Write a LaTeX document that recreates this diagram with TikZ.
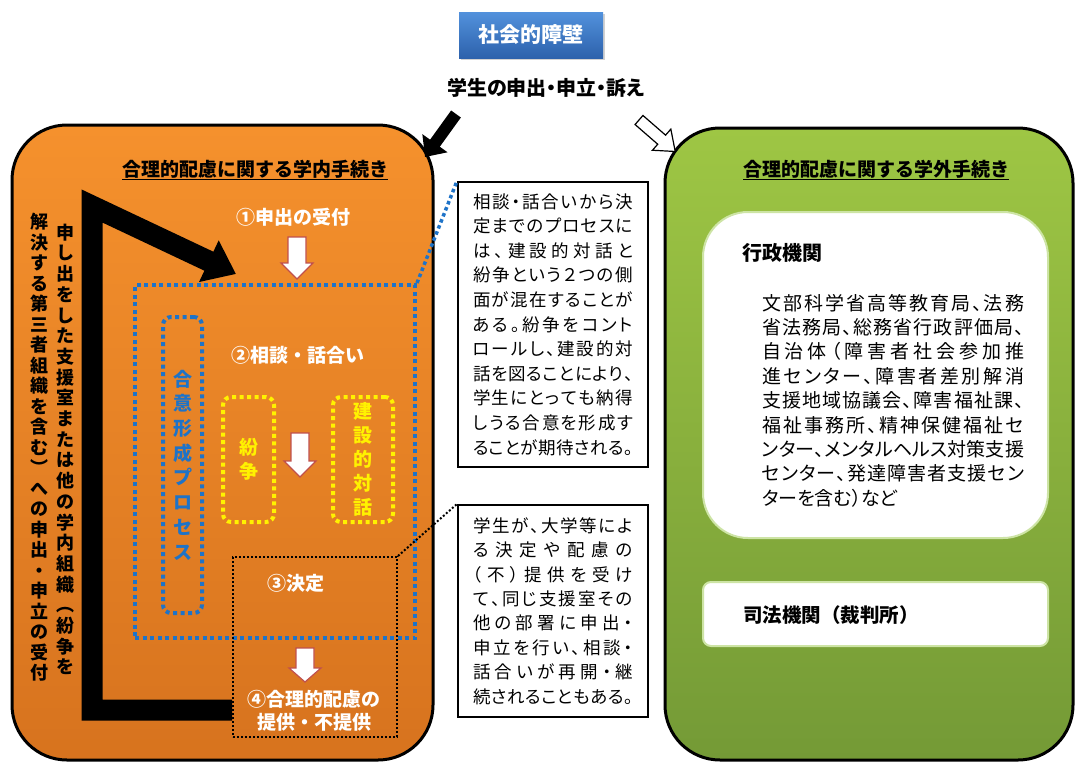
\documentclass[tikz,border=0pt]{standalone}
\usepackage{fontspec}
\setmainfont{Noto Sans CJK JP}
\newfontfamily\jp{Noto Sans CJK JP}
\newfontfamily\jpp{Noto Sans CJK JP}[RawFeature=+palt]
\usetikzlibrary{arrows.meta,shadows}
\definecolor{orTop}{RGB}{245,145,45}
\definecolor{orBot}{RGB}{215,115,30}
\definecolor{grTop}{RGB}{158,198,68}
\definecolor{grBot}{RGB}{116,154,54}
\definecolor{dblue}{RGB}{30,115,200}
\definecolor{arrRed}{RGB}{192,80,77}
\definecolor{bxTop}{RGB}{82,145,220}
\definecolor{bxBot}{RGB}{45,98,172}
\definecolor{glow}{RGB}{205,228,165}
\newcommand\fsz[1]{\fontsize{#1}{#1}\selectfont}
\def\jsp#1#2{#1\ifx#2\relax\else\hfill\expandafter\jsp\expandafter#2\fi}
\newcommand\jline[2]{\hbox to #1{\jsp#2\relax}}
\def\vsp#1{\ifx#1\relax\else\hbox to 1.05em{\hss#1\hss}\expandafter\vsp\fi}
\newcommand\vtxt[2]{\vbox{\baselineskip=#1\lineskiplimit=-100pt\lineskip=0pt\vsp#2\relax}}
\newcommand\barrow[8]{\draw[#8, shift={(#1,#2)}, rotate=#3] (0,-#5) -- (#4-#7,-#5) -- (#4-#7,-#6) -- (#4,0) -- (#4-#7,#6) -- (#4-#7,#5) -- (0,#5) -- cycle;}
\begin{document}
\begin{tikzpicture}[x=1pt,y=-1pt,
  bigbox/.style={draw=black, line width=3pt, rounded corners=55pt, inner sep=0pt},
  bluedot/.style={draw=dblue, line width=4pt, dash pattern=on 4pt off 3.5pt, inner sep=0pt},
  yeldot/.style={draw=yellow, line width=4pt, dash pattern=on 4pt off 3.5pt, rounded corners=8pt, inner sep=0pt},
  blkdot/.style={draw=black, line width=2pt, dash pattern=on 2pt off 2pt},
  wlabel/.style={text=white, font=\jp\bfseries\fsz{19}},
  txtbox/.style={draw=black, line width=2pt, fill=white, inner sep=0pt},
  warrow/.style={draw=arrRed, fill=white, line width=1.2pt}]
\useasboundingbox (0,0) rectangle (1076,763);
\fill[white] (0,0) rectangle (1076,763);

% top
\node[top color=bxTop, bottom color=bxBot, minimum width=144pt, minimum height=46pt,
  drop shadow={shadow xshift=2pt, shadow yshift=-2pt, opacity=0.35},
  text=white, font=\jp\bfseries\fsz{21}] (barrier) at (531,35) {社会的障壁};
\node[font=\jpp\bfseries\fsz{20}] (claim) at (546,88) {学生の申出・申立・訴え};

% big boxes
\node[bigbox, top color=orTop, bottom color=orBot, minimum width=421pt, minimum height=635pt] (inner) at (222.5,442.5) {};
\node[bigbox, top color=grTop, bottom color=grBot, minimum width=408pt, minimum height=632pt] (outer) at (869,444) {};

% arrows from top
\coordinate (a1s) at (456,114);
\coordinate (a1e) at (425,157);
\draw[line width=12pt, -{Triangle[length=17pt,width=30pt]}] (a1s) -- (a1e);
\barrow{639}{120}{-41}{48}{6}{14}{18}{draw=black, fill=white, line width=1.2pt}

% inner procedure
\node[font=\jp\bfseries\fsz{19}] (ttl1) at (255,170) {\underline{合理的配慮に関する学内手続き}};

\node[bluedot, minimum width=280pt, minimum height=353pt] (cons) at (275,461.5) {};
\node[blkdot, minimum width=164pt, minimum height=180pt, inner sep=0pt] (dec) at (315,647) {};

\coordinate (Lc1) at (92,710);
\coordinate (Lc2) at (92,206);
\coordinate (Ltip) at (236,274);
\draw[line width=21pt, line join=miter, -{Triangle[length=30pt,width=44pt]}] (dec.west |- Lc1) -- (Lc1) -- (Lc2) -- (Ltip);

\node[font=\jp\bfseries\fsz{18}, inner sep=0pt] (col1) at (65,449.5) {\vtxt{20.7pt}{申し出をした支援室または他の学内組織︵紛争を}};
\node[font=\jp\bfseries\fsz{18}, inner sep=0pt] (col2) at (39,447.5) {\vtxt{20.5pt}{解決する第三者組織を含む︶への申出・申立の受付}};

\node[wlabel] (s1) at (293,217) {①申出の受付};
\barrow{297}{237}{-90}{42}{9}{16}{16}{warrow}
\node[wlabel] (s2) at (298,355) {②相談・話合い};

\node[bluedot, rounded corners=8pt, minimum width=39pt, minimum height=296pt, text=dblue, font=\jp\bfseries\fsz{19}] (goi) at (182.5,465) {\vtxt{24.7pt}{合意形成プロセス}};
\node[yeldot, minimum width=51pt, minimum height=125pt, text=yellow, font=\jp\bfseries\fsz{19}] (funso) at (248.5,459.5) {\vtxt{23.5pt}{紛争}};
\node[yeldot, minimum width=60pt, minimum height=125pt, text=yellow, font=\jp\bfseries\fsz{19}] (kensetsu) at (363,459.5) {\vtxt{24pt}{建設的対話}};
\barrow{300}{433}{-90}{44}{9}{16}{16}{warrow}

\node[wlabel] (s3) at (296,583) {③決定};
\barrow{305}{648}{-90}{34}{9}{16}{14}{warrow}
\node[text=white, font=\jp\bfseries\fontsize{19}{23}\selectfont, align=center] (s4) at (314,711) {④合理的配慮の\\提供・不提供};

% explanation boxes
\node[txtbox, minimum width=190pt, minimum height=285pt, font=\jpp\fsz{17.5}] (t1) at (553,324.5) {\vbox{\baselineskip=24.6pt\lineskiplimit=-100pt
\jline{160pt}{相談・話合いから決}
\jline{160pt}{定までのプロセスに}
\jline{160pt}{は、建設的対話と}
\jline{160pt}{紛争という２つの側}
\jline{160pt}{面が混在することが}
\jline{160pt}{ある。紛争をコント}
\jline{160pt}{ロールし、建設的対}
\jline{160pt}{話を図ることにより、}
\jline{160pt}{学生にとっても納得}
\jline{160pt}{しうる合意を形成す}
\jline{160pt}{ることが期待される。}}};
\node[txtbox, minimum width=190pt, minimum height=212pt, font=\jpp\fsz{17.5}] (t2) at (553,611) {\vbox{\baselineskip=24.4pt\lineskiplimit=-100pt
\jline{160pt}{学生が、大学等によ}
\jline{160pt}{る決定や配慮の}
\jline{160pt}{（不）提供を受け}
\jline{160pt}{て、同じ支援室その}
\jline{160pt}{他の部署に申出・}
\jline{160pt}{申立を行い、相談・}
\jline{160pt}{話合いが再開・継}
\jline{160pt}{続されることもある。}}};
\draw[dblue, line width=3.5pt, dash pattern=on 3.5pt off 3pt] (cons.north east) -- (t1.north west);
\draw[blkdot] (dec.north east) -- (t2.north west);

% outer procedure
\node[font=\jp\bfseries\fsz{19}] (ttl2) at (876,170) {\underline{合理的配慮に関する学外手続き}};
\node[fill=white, draw=glow, line width=2pt, rounded corners=45pt, minimum width=345pt, minimum height=326pt] (gyosei) at (875.5,375) {};
\node[font=\jp\bfseries\fsz{20}, anchor=west, inner sep=0pt] (gyl) at (742,253) {行政機関};
\node[font=\jpp\fsz{19}, inner sep=0pt] (gyb) at (893,400.5) {\vbox{\baselineskip=24.4pt\lineskiplimit=-100pt
\jline{262pt}{文部科学省高等教育局、法務}
\jline{262pt}{省法務局、総務省行政評価局、}
\jline{262pt}{自治体（障害者社会参加推}
\jline{262pt}{進センター、障害者差別解消}
\jline{262pt}{支援地域協議会、障害福祉課、}
\jline{262pt}{福祉事務所、精神保健福祉セ}
\jline{262pt}{ンター、メンタルヘルス対策支援}
\jline{262pt}{センター、発達障害者支援セン}
\hbox{ターを含む）など}}};
\node[fill=white, draw=glow, line width=2pt, rounded corners=8pt, minimum width=345pt, minimum height=64pt] (shiho) at (875.5,614) {};
\node[font=\jp\bfseries\fsz{19.5}, anchor=west, inner sep=0pt] (shl) at (743,615) {司法機関（裁判所）};
\end{tikzpicture}
\end{document}
